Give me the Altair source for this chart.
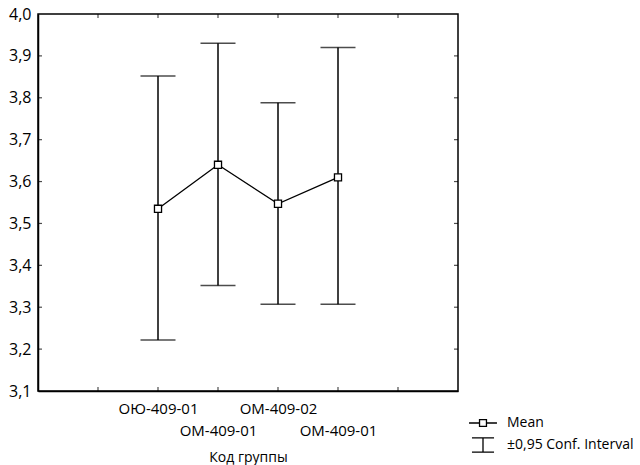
import altair as alt
import pandas as pd

# ---- data ----
groups = ["ОЮ-409-01", "ОМ-409-01", "ОМ-409-02", "ОМ-409-01"]
means = [3.535, 3.640, 3.547, 3.610]
lower = [3.222, 3.352, 3.307, 3.307]
upper = [3.852, 3.930, 3.788, 3.920]
label_row = [0, 1, 0, 1]          # staggered category labels
y_ticks = [3.1, 3.2, 3.3, 3.4, 3.5, 3.6, 3.7, 3.8, 3.9, 4.0]
x_ticks = [1, 2, 3, 4, 5, 6]
legend_labels = ["Mean", "±0,95 Conf. Interval"]

FONT = "Open Sans"
positions = [i + 2 for i in range(len(groups))]
df = pd.DataFrame({"pos": positions, "group": groups, "mean": means,
                   "lo": lower, "hi": upper})

# label expression for the staggered x axis labels
parts = []
for p, g, r in zip(positions, groups, label_row):
    lab = f"'{g}'" if r == 0 else f"['', '{g}']"
    parts.append(f"datum.value == {p} ? {lab} : ")
x_label_expr = "".join(parts) + "''"

x_scale = alt.Scale(domain=[0, 7], nice=False, zero=False)
x_axis = alt.Axis(values=x_ticks, labelExpr=x_label_expr, title="Код группы",
                  labelPadding=10, labelLineHeight=22, titlePadding=12,
                  labelBaseline="top", labelFlush=False, labelOverlap=False,
                  labelFontSize=15)
x_enc = alt.X("pos:Q", scale=x_scale, axis=x_axis)
y_scale = alt.Scale(domain=[3.1, 4.0], nice=False, zero=False)
y_axis = alt.Axis(values=y_ticks, labelExpr="replace(format(datum.value, '.1f'), '.', ',')",
                  title=None, labelPadding=7, labelFontSize=16, labelOverlap=False)

base = alt.Chart(df)
W, H = 420, 377

bars = base.mark_rule(color="black", strokeWidth=1.5).encode(
    x=x_enc, y=alt.Y("lo:Q", scale=y_scale, axis=y_axis), y2="hi:Q")
cap_lo = base.mark_tick(color="black", orient="horizontal", size=35, thickness=1.5).encode(
    x=x_enc, y=alt.Y("lo:Q", scale=y_scale, axis=y_axis))
cap_hi = base.mark_tick(color="black", orient="horizontal", size=35, thickness=1.5).encode(
    x=x_enc, y=alt.Y("hi:Q", scale=y_scale, axis=y_axis))
line = base.mark_line(color="black", strokeWidth=1.3).encode(
    x=x_enc, y=alt.Y("mean:Q", scale=y_scale, axis=y_axis))
pts = base.mark_point(shape="square", filled=True, fill="white", stroke="black",
                      strokeWidth=1.3, size=50, opacity=1).encode(
    x=x_enc, y=alt.Y("mean:Q", scale=y_scale, axis=y_axis))

# inward tick marks on all four sides
ydf = pd.DataFrame({"v": y_ticks[1:-1]})
xdf = pd.DataFrame({"v": x_ticks})
yt_l = alt.Chart(ydf).mark_tick(color="black", orient="horizontal", size=4, thickness=1.2).encode(
    y=alt.Y("v:Q", scale=y_scale, axis=y_axis), x=alt.value(2))
yt_r = alt.Chart(ydf).mark_tick(color="black", orient="horizontal", size=4, thickness=1.2).encode(
    y=alt.Y("v:Q", scale=y_scale, axis=y_axis), x=alt.value(W - 2))
xt_b = alt.Chart(xdf).mark_tick(color="black", orient="vertical", size=4, thickness=1.2).encode(
    x=alt.X("v:Q", scale=x_scale, axis=x_axis), y=alt.value(H - 2))
xt_t = alt.Chart(xdf).mark_tick(color="black", orient="vertical", size=4, thickness=1.2).encode(
    x=alt.X("v:Q", scale=x_scale, axis=x_axis), y=alt.value(2))

# legend
mean_path = "M-1.33,0H-0.33M0.33,0H1.33M-0.33,-0.33H0.33V0.33H-0.33Z"
ci_path = "M-1.05,-0.67H1.05M0,-0.67V0.67M-1.05,0.67H1.05"
ldf = pd.DataFrame({"series": legend_labels})
leg = alt.Chart(ldf).mark_point(size=0, filled=False).encode(
    x=alt.value(0), y=alt.value(0),
    shape=alt.Shape("series:N",
                    scale=alt.Scale(domain=legend_labels, range=[mean_path, ci_path]),
                    legend=alt.Legend(orient="none", legendX=433.5, legendY=397.5,
                                      title=None, padding=0, symbolSize=441,
                                      symbolStrokeColor="black", symbolFillColor="white",
                                      symbolStrokeWidth=1.3, symbolOpacity=1,
                                      labelFont=FONT, labelFontSize=14, labelColor="black",
                                      labelOffset=12.5, rowPadding=3,
                                      labelLimit=300)))

chart = alt.layer(bars, cap_lo, cap_hi, line, pts, yt_l, yt_r, xt_b, xt_t, leg).properties(
    width=W, height=H,
    background="white",
    padding={"left": 38, "top": 14, "right": 182, "bottom": 74},
    autosize=alt.AutoSizeParams(type="none"),
).configure_view(stroke="black", strokeWidth=1.5).configure_axis(
    grid=False, tickSize=0, domainColor="black", domainWidth=1.5,
    labelFont=FONT, labelFontSize=14, labelColor="black",
    titleFont=FONT, titleFontSize=14, titleColor="black", titleFontWeight="normal",
)

chart.save("out.html", embed_options={"renderer": "svg", "actions": False})
